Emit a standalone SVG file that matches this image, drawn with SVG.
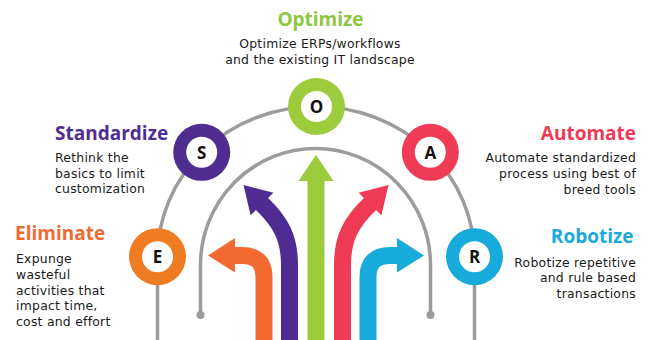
<svg xmlns="http://www.w3.org/2000/svg" width="651" height="340" viewBox="0 0 651 340">
<style>
.title{font-family:"Open Sans","Noto Sans",sans-serif;font-weight:700;font-size:19px}
.body{font-family:"DejaVu Sans","Open Sans",sans-serif;font-size:12.4px;letter-spacing:0.25px;fill:#1a1a1a}
.letter{font-family:"Open Sans","Noto Sans",sans-serif;font-weight:700;font-size:17px;fill:#111;text-anchor:middle}
.gray{fill:none;stroke:#9c9c9e;stroke-width:3.5}
.shaft{fill:none;stroke-width:17;stroke-linecap:butt}
</style>
<rect width="651" height="340" fill="#ffffff"/>
<g id="connectors">
  <path class="gray" d="M157.5 340 V257 A158.5 150.5 0 0 1 474.5 257 V340"/>
  <path class="gray" d="M200.5 315 V265 A115 116.5 0 0 1 430.5 265 V315"/>
  <circle cx="200.5" cy="315" r="4" fill="#9c9c9e"/>
  <circle cx="430.5" cy="315" r="4" fill="#9c9c9e"/>
  <path class="shaft" stroke="#f26a2f" d="M264 340 V277 Q264 255.5 242 255.5 H233"/>
  <polygon fill="#f26a2f" points="208,255.5 235,238 235,272.5"/>
  <path class="shaft" stroke="#4e2c91" d="M289.5 340 V265 C289.5 238 281 222 261 203"/>
  <polygon fill="#4e2c91" points="243.5,185 273.4,192.8 250.6,215.2"/>
  <path class="shaft" stroke="#9ccb3b" d="M316 340 V179"/>
  <polygon fill="#9ccb3b" points="316,155 333.5,181 298.5,181"/>
  <path class="shaft" stroke="#ee3a54" d="M342.5 340 V265 C342.5 238 351 222 371 203"/>
  <polygon fill="#ee3a54" points="388.5,185 358.6,192.8 381.4,215.2"/>
  <path class="shaft" stroke="#16abdb" d="M368 340 V277 Q368 255.5 390 255.5 H399"/>
  <polygon fill="#16abdb" points="424,255.5 397,238 397,272.5"/>
</g>
<g id="node-E">
  <circle cx="157.5" cy="256.7" r="28.5" fill="#ef7b22"/>
  <circle cx="157.5" cy="256.7" r="15.5" fill="#fff"/>
  <text class="letter" x="157.5" y="263">E</text>
  <text class="title" x="15" y="240" fill="#f26a32">Eliminate</text>
  <text class="body"><tspan x="16" y="262.5">Expunge</tspan><tspan x="16" y="278.5">wasteful</tspan><tspan x="16" y="294.5">activities that</tspan><tspan x="16" y="310">impact time,</tspan><tspan x="16" y="325.7">cost and effort</tspan></text>
</g>
<g id="node-S">
  <circle cx="201.7" cy="152.3" r="28.5" fill="#4f2c8f"/>
  <circle cx="201.7" cy="152.3" r="15.5" fill="#fff"/>
  <text class="letter" x="201.7" y="158.6">S</text>
  <text class="title" x="55" y="140" fill="#4f2d92">Standardize</text>
  <text class="body"><tspan x="55" y="161.7">Rethink the</tspan><tspan x="55" y="177.5">basics to limit</tspan><tspan x="55" y="193.3">customization</tspan></text>
</g>
<g id="node-O">
  <circle cx="316.5" cy="106.5" r="28.5" fill="#9ccb3b"/>
  <circle cx="316.5" cy="106.5" r="15.5" fill="#fff"/>
  <text class="letter" x="316.5" y="112.8">O</text>
  <text class="title" x="320.5" y="26" fill="#8dc63f" text-anchor="middle">Optimize</text>
  <text class="body" text-anchor="middle"><tspan x="320" y="48.3">Optimize ERPs/workflows</tspan><tspan x="320" y="64.3">and the existing IT landscape</tspan></text>
</g>
<g id="node-A">
  <circle cx="430.3" cy="152.3" r="28.5" fill="#ef3b55"/>
  <circle cx="430.3" cy="152.3" r="15.5" fill="#fff"/>
  <text class="letter" x="430.3" y="158.6">A</text>
  <text class="title" x="636" y="140" fill="#ee3a54" text-anchor="end">Automate</text>
  <text class="body" text-anchor="end"><tspan x="636" y="162.3">Automate standardized</tspan><tspan x="636" y="178.3">process using best of</tspan><tspan x="636" y="194">breed tools</tspan></text>
</g>
<g id="node-R">
  <circle cx="474.5" cy="256.7" r="28.5" fill="#17abdb"/>
  <circle cx="474.5" cy="256.7" r="15.5" fill="#fff"/>
  <text class="letter" x="474.5" y="263">R</text>
  <text class="title" x="633.5" y="243.3" fill="#1ba9dc" text-anchor="end">Robotize</text>
  <text class="body" text-anchor="end"><tspan x="636" y="266.7">Robotize repetitive</tspan><tspan x="636" y="282.3">and rule based</tspan><tspan x="636" y="297.5">transactions</tspan></text>
</g>
</svg>
